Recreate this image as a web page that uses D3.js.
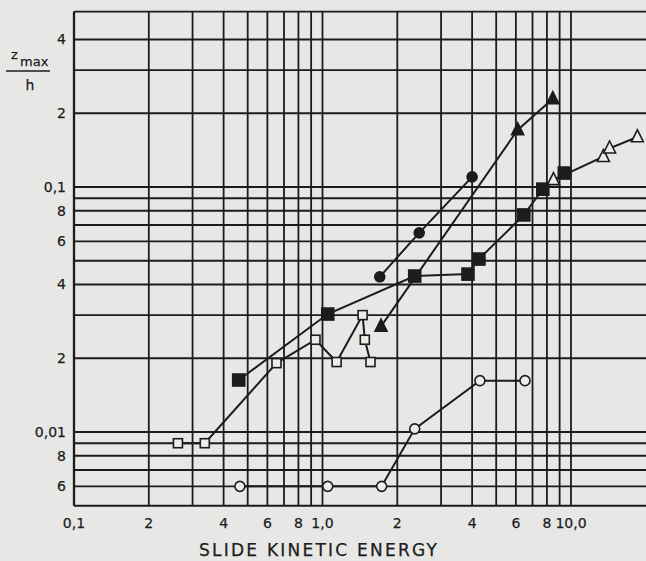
<!DOCTYPE html>
<html>
<head>
<meta charset="utf-8">
<script src="https://cdn.jsdelivr.net/npm/d3@7"></script>
<style>
  html, body { margin: 0; padding: 0; background: #e7e7e5; }
  svg { display: block; }
  text { font-family: "DejaVu Sans", sans-serif; fill: #1c1c1c; stroke: #1c1c1c; stroke-width: 0.25; }
</style>
</head>
<body>
<svg id="chart" width="646" height="561"></svg>
<script>
// ---- Tick labels ----
const xTickValues = [0.1, 0.2, 0.4, 0.6, 0.8, 1, 2, 4, 6, 8, 10];
const xTickLabels = ["0,1", "2", "4", "6", "8", "1,0", "2", "4", "6", "8", "10,0"];
const yTickValues = [0.4, 0.2, 0.1, 0.08, 0.06, 0.04, 0.02, 0.01, 0.008, 0.006];
const yTickLabels = ["4", "2", "0,1", "8", "6", "4", "2", "0,01", "8", "6"];

// ---- Grid lines (log paper) ----
const xGrid = [0.1, 0.2, 0.3, 0.4, 0.5, 0.6, 0.7, 0.8, 0.9, 1, 2, 3, 4, 5, 6, 7, 8, 9, 10];
const yGrid = [0.005, 0.006, 0.007, 0.008, 0.009, 0.01, 0.02, 0.03, 0.04, 0.05, 0.06, 0.07, 0.08, 0.09, 0.1, 0.2, 0.3, 0.4, 0.52];

// ---- Series (x = slide kinetic energy, y = zmax/h) ----
const filledCircleX = [1.7, 2.45, 4.0];
const filledCircleY = [0.043, 0.065, 0.11];

const filledTriangleX = [1.72, 6.1, 8.45];
const filledTriangleY = [0.027, 0.171, 0.229];

const filledSquareX = [0.46, 1.05, 2.35, 3.85, 4.26, 6.46, 7.7, 9.4];
const filledSquareY = [0.0163, 0.0303, 0.0433, 0.0441, 0.0508, 0.0769, 0.098, 0.114];

const openTriangleX = [8.5, 13.5, 14.3, 18.5];
const openTriangleY = [0.107, 0.133, 0.144, 0.160];

const openSquareX = [0.262, 0.336, 0.653, 0.937, 1.14, 1.45, 1.48, 1.56];
const openSquareY = [0.009, 0.009, 0.0191, 0.0238, 0.0193, 0.030, 0.0238, 0.0193];

const openCircleX = [0.465, 1.05, 1.73, 2.35, 4.3, 6.53];
const openCircleY = [0.006, 0.006, 0.006, 0.0103, 0.0162, 0.0162];

// ---- Scales ----
const x = d3.scaleLog().domain([0.1, 10]).range([74, 571]);
const y = d3.scaleLog().domain([0.01, 0.1]).range([432, 187]);

const svg = d3.select("#chart");
const ink = "#1c1c1c";

const xLeft = x(0.1), xRight = 646;
const yTop = y(0.52), yBottom = y(0.005);

// horizontal grid
svg.append("g").selectAll("line").data(yGrid).join("line")
  .attr("x1", xLeft).attr("x2", xRight)
  .attr("y1", d => y(d)).attr("y2", d => y(d))
  .attr("stroke", ink).attr("stroke-width", 1.9);

// vertical grid
svg.append("g").selectAll("line").data(xGrid).join("line")
  .attr("x1", d => x(d)).attr("x2", d => x(d))
  .attr("y1", yTop).attr("y2", yBottom)
  .attr("stroke", ink).attr("stroke-width", d => d === 0.1 ? 2.3 : 1.8);

// tick labels
svg.append("g").selectAll("text").data(xTickValues).join("text")
  .attr("x", d => x(d)).attr("y", yBottom + 22)
  .attr("text-anchor", "middle").attr("font-size", 14)
  .text((d, i) => xTickLabels[i]);

svg.append("g").selectAll("text").data(yTickValues).join("text")
  .attr("x", xLeft - 8).attr("y", d => y(d) + 5)
  .attr("text-anchor", "end").attr("font-size", 14)
  .text((d, i) => yTickLabels[i]);

// axis titles
svg.append("text").attr("x", 199).attr("y", 556)
  .attr("font-size", 17)
  .attr("textLength", 238).attr("lengthAdjust", "spacing")
  .text("SLIDE  KINETIC  ENERGY");

svg.append("text").attr("x", 11).attr("y", 59).attr("font-size", 13).text("z");
svg.append("text").attr("x", 20).attr("y", 66).attr("font-size", 13).text("max");
svg.append("line").attr("x1", 6).attr("x2", 50).attr("y1", 71).attr("y2", 71)
  .attr("stroke", ink).attr("stroke-width", 1.4);
svg.append("text").attr("x", 30).attr("y", 90).attr("text-anchor", "middle")
  .attr("font-size", 14).text("h");

// series
const series = [
  { xs: openSquareX, ys: openSquareY, shape: "square", filled: false, size: 9 },
  { xs: openCircleX, ys: openCircleY, shape: "circle", filled: false, size: 10 },
  { xs: filledSquareX, ys: filledSquareY, shape: "square", filled: true, size: 12 },
  { xs: openTriangleX, ys: openTriangleY, shape: "triangle", filled: false, size: 12 },
  { xs: filledCircleX, ys: filledCircleY, shape: "circle", filled: true, size: 10 },
  { xs: filledTriangleX, ys: filledTriangleY, shape: "triangle", filled: true, size: 12 }
];

const line = d3.line().x(d => x(d[0])).y(d => y(d[1]));

series.forEach(s => {
  const pts = s.xs.map((v, i) => [v, s.ys[i]]);
  svg.append("path").datum(pts).attr("d", line)
    .attr("fill", "none").attr("stroke", ink).attr("stroke-width", 2);
});

series.forEach(s => {
  const pts = s.xs.map((v, i) => [v, s.ys[i]]);
  const g = svg.append("g");
  const fill = s.filled ? ink : "#ecece9";
  if (s.shape === "circle") {
    g.selectAll("circle").data(pts).join("circle")
      .attr("cx", d => x(d[0])).attr("cy", d => y(d[1])).attr("r", s.size / 2)
      .attr("fill", fill).attr("stroke", ink).attr("stroke-width", 1.6);
  } else if (s.shape === "square") {
    g.selectAll("rect").data(pts).join("rect")
      .attr("x", d => x(d[0]) - s.size / 2).attr("y", d => y(d[1]) - s.size / 2)
      .attr("width", s.size).attr("height", s.size)
      .attr("fill", fill).attr("stroke", ink).attr("stroke-width", 1.6);
  } else {
    const h = s.size;
    g.selectAll("path").data(pts).join("path")
      .attr("d", d => {
        const cx = x(d[0]), cy = y(d[1]);
        return `M${cx},${cy - h * 0.6} L${cx + h * 0.5},${cy + h * 0.4} L${cx - h * 0.5},${cy + h * 0.4} Z`;
      })
      .attr("fill", fill).attr("stroke", ink).attr("stroke-width", 1.6);
  }
});
</script>
</body>
</html>
